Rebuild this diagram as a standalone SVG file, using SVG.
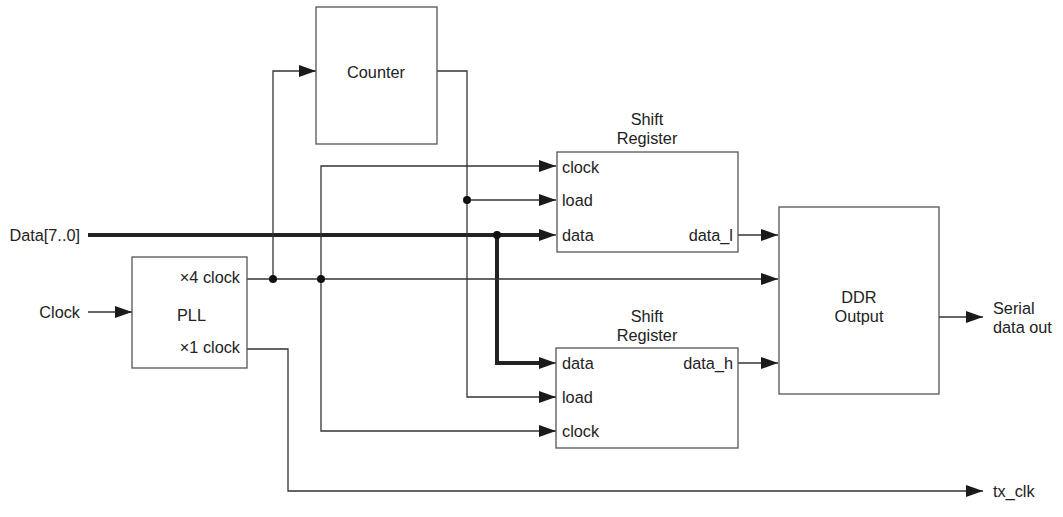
<svg xmlns="http://www.w3.org/2000/svg" width="1063" height="517" viewBox="0 0 1063 517">
<style>
text{font-family:"Liberation Sans",Arial,sans-serif;font-size:16.3px;fill:#222}
.box{fill:#fff;stroke:#555;stroke-width:1.3}
.w{fill:none;stroke:#333;stroke-width:1.3}
.t{fill:none;stroke:#222;stroke-width:4}
.dot{fill:#111}
.m{text-anchor:middle}
.e{text-anchor:end}
</style>
<defs>
<marker id="ar" markerUnits="userSpaceOnUse" markerWidth="18" markerHeight="14" refX="17" refY="7" orient="auto">
<path d="M0,1 L17,7 L0,13 Z" fill="#1a1a1a"/>
</marker>
</defs>
<g id="connectors">
<path class="t" d="M88,235 H541"/>
<path class="t" d="M497,235 V363 H541"/>
<path class="w" d="M539,235 H556" marker-end="url(#ar)"/>
<path class="w" d="M539,363 H556" marker-end="url(#ar)"/>
<path class="w" d="M88,312 H132" marker-end="url(#ar)"/>
<path class="w" d="M247,279 H778" marker-end="url(#ar)"/>
<path class="w" d="M273,279 V71 H316" marker-end="url(#ar)"/>
<path class="w" d="M437,71 H467 V397 H556" marker-end="url(#ar)"/>
<path class="w" d="M467,200 H556" marker-end="url(#ar)"/>
<path class="w" d="M321,279 V166 H556" marker-end="url(#ar)"/>
<path class="w" d="M321,279 V431 H556" marker-end="url(#ar)"/>
<path class="w" d="M738,235 H778" marker-end="url(#ar)"/>
<path class="w" d="M738,363 H778" marker-end="url(#ar)"/>
<path class="w" d="M939,317 H983" marker-end="url(#ar)"/>
<path class="w" d="M247,349 H288 V491 H983" marker-end="url(#ar)"/>
<circle class="dot" cx="273" cy="279" r="4"/>
<circle class="dot" cx="321" cy="279" r="4"/>
<circle class="dot" cx="467" cy="200" r="4"/>
<circle class="dot" cx="497" cy="235" r="4"/>
</g>
<g id="inputs">
<text class="e" x="80" y="241">Data[7..0]</text>
<text class="e" x="80" y="318">Clock</text>
</g>
<g id="pll">
<rect class="box" x="132" y="257" width="115" height="111"/>
<text class="e" x="240" y="283">×4 clock</text>
<text x="177" y="321">PLL</text>
<text class="e" x="240" y="353">×1 clock</text>
</g>
<g id="counter">
<rect class="box" x="316" y="7" width="121" height="137"/>
<text class="m" x="376" y="78">Counter</text>
</g>
<g id="shift_l">
<text class="m" x="647" y="125">Shift</text>
<text class="m" x="647" y="144">Register</text>
<rect class="box" x="557" y="152" width="181" height="100"/>
<text x="562" y="173">clock</text>
<text x="562" y="206">load</text>
<text x="562" y="241">data</text>
<text class="e" x="733" y="241">data_l</text>
</g>
<g id="shift_h">
<text class="m" x="647" y="322">Shift</text>
<text class="m" x="647" y="341">Register</text>
<rect class="box" x="556" y="348" width="182" height="100"/>
<text x="562" y="369">data</text>
<text x="562" y="403">load</text>
<text x="562" y="437">clock</text>
<text class="e" x="733" y="369">data_h</text>
</g>
<g id="ddr">
<rect class="box" x="779" y="207" width="160" height="187"/>
<text class="m" x="859" y="303">DDR</text>
<text class="m" x="859" y="322">Output</text>
</g>
<g id="outputs">
<text x="993" y="314">Serial</text>
<text x="993" y="333">data out</text>
<text x="993" y="497">tx_clk</text>
</g>
</svg>
